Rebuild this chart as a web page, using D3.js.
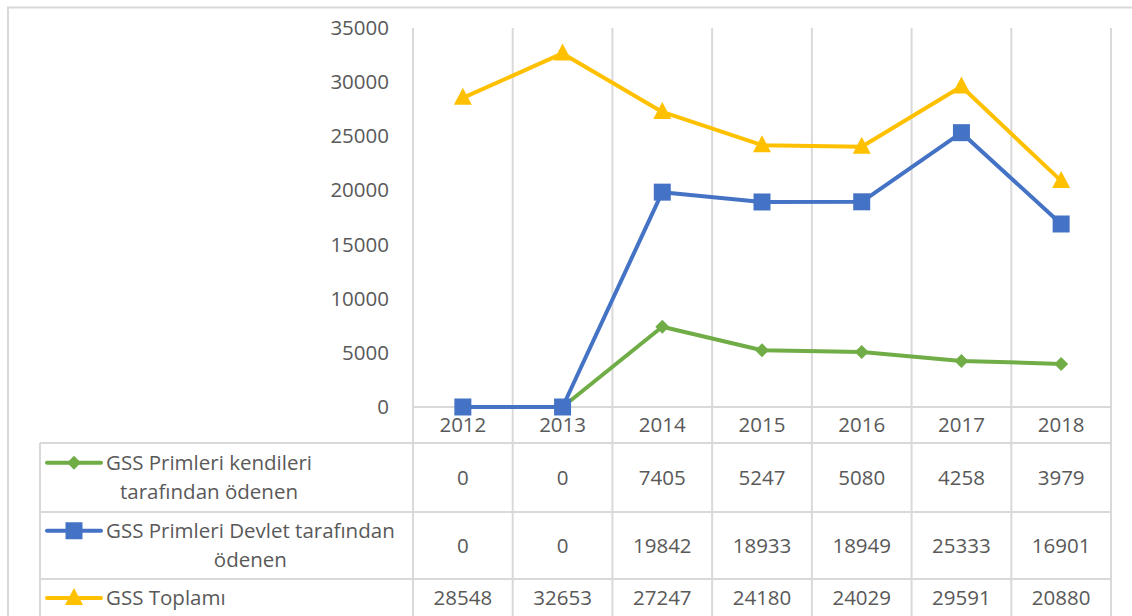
<!DOCTYPE html>
<html>
<head>
<meta charset="utf-8">
<script src="https://cdn.jsdelivr.net/npm/d3@7"></script>
<style>
  body { margin: 0; background: #fff; }
  text { font-family: "Open Sans", sans-serif; fill: #595959; }
</style>
</head>
<body>
<svg></svg>
<script>
const years = ["2012", "2013", "2014", "2015", "2016", "2017", "2018"];
const kendileri = [0, 0, 7405, 5247, 5080, 4258, 3979];
const devlet = [0, 0, 19842, 18933, 18949, 25333, 16901];
const toplam = [28548, 32653, 27247, 24180, 24029, 29591, 20880];
const yTicks = [0, 5000, 10000, 15000, 20000, 25000, 30000, 35000];

const series = [
  { name: ["GSS Primleri kendileri", "tarafından ödenen"], values: kendileri, color: "#70AD47", marker: "diamond" },
  { name: ["GSS Primleri Devlet tarafından", "ödenen"], values: devlet, color: "#4472C4", marker: "square" },
  { name: ["GSS Toplamı"], values: toplam, color: "#FFC000", marker: "triangle" },
];

let width = 1132,
  height = 616;

let svg = d3.select("svg").attr("width", width).attr("height", height);

const grid = "#D9D9D9";
const fs = 20.5;

let x = d3.scaleBand().domain(years).range([413, 1111]);
let y = d3.scaleLinear().domain([0, 35000]).range([407, 28]);

// table row edges (last one is below the picture)
const rowTops = [407, 443, 512, 579, 617];

// outer border
svg.append("path")
  .attr("d", `M8,${height} V7.5 H${width}`)
  .attr("fill", "none")
  .attr("stroke", grid)
  .attr("stroke-width", 2);

// vertical gridlines on category edges
let edges = years.map((d) => x(d)).concat([x.range()[1]]);
svg.append("g")
  .selectAll("line")
  .data(edges)
  .enter()
  .append("line")
  .attr("x1", (d) => d)
  .attr("x2", (d) => d)
  .attr("y1", y(35000))
  .attr("y2", height)
  .attr("stroke", grid)
  .attr("stroke-width", 2);

// table horizontal lines
svg.append("line")
  .attr("x1", 413).attr("x2", 1111)
  .attr("y1", rowTops[0]).attr("y2", rowTops[0])
  .attr("stroke", grid).attr("stroke-width", 2);
svg.append("g")
  .selectAll("line")
  .data(rowTops.slice(1, 4))
  .enter()
  .append("line")
  .attr("x1", 40).attr("x2", 1111)
  .attr("y1", (d) => d).attr("y2", (d) => d)
  .attr("stroke", grid).attr("stroke-width", 2);
svg.append("line")
  .attr("x1", 40).attr("x2", 40)
  .attr("y1", rowTops[1]).attr("y2", height)
  .attr("stroke", grid).attr("stroke-width", 2);

// y axis labels
let yAxis = svg.append("g")
  .attr("transform", "translate(413,0)")
  .call(d3.axisLeft(y).tickValues(yTicks).tickSize(0).tickPadding(24).tickFormat(d3.format("d")));
yAxis.select(".domain").remove();
yAxis.selectAll("text").style("font-size", fs + "px").style("font-family", "Open Sans").attr("fill", "#595959");

// year labels
svg.append("g")
  .selectAll("text")
  .data(years)
  .enter()
  .append("text")
  .attr("x", (d) => x(d) + x.bandwidth() / 2)
  .attr("y", (rowTops[0] + rowTops[1]) / 2)
  .attr("dy", "0.35em")
  .attr("text-anchor", "middle")
  .style("font-size", fs + "px")
  .text((d) => d);

function markerPath(type) {
  if (type == "diamond") return "M0,-7L7,0L0,7L-7,0Z";
  if (type == "square") return "M-8.5,-8.5H8.5V8.5H-8.5Z";
  return "M0,-10L9,7H-9Z";
}

// lines + markers
let line = d3.line()
  .x((d, i) => x(years[i]) + x.bandwidth() / 2)
  .y((d) => y(d));

series.forEach((s) => {
  let g = svg.append("g");
  g.append("path")
    .datum(s.values)
    .attr("d", line)
    .attr("fill", "none")
    .attr("stroke", s.color)
    .attr("stroke-width", 4)
    .attr("stroke-linejoin", "round");
  g.selectAll("path.m")
    .data(s.values)
    .enter()
    .append("path")
    .attr("class", "m")
    .attr("d", markerPath(s.marker))
    .attr("transform", (d, i) => `translate(${x(years[i]) + x.bandwidth() / 2},${y(d)})`)
    .attr("fill", s.color);
});

// table rows: legend + values
series.forEach((s, r) => {
  let top = rowTops[r + 1],
    bot = rowTops[r + 2];
  let mid = (top + bot) / 2;
  let lh = 29.5;
  let firstY = mid - ((s.name.length - 1) * lh) / 2;

  // legend symbol
  svg.append("line")
    .attr("x1", 47).attr("x2", 101)
    .attr("y1", firstY).attr("y2", firstY)
    .attr("stroke", s.color).attr("stroke-width", 4)
    .attr("stroke-linecap", "round");
  svg.append("path")
    .attr("d", markerPath(s.marker))
    .attr("transform", `translate(74,${firstY})`)
    .attr("fill", s.color);

  // legend text, lines centred on each other
  let texts = svg.append("g")
    .selectAll("text")
    .data(s.name)
    .enter()
    .append("text")
    .attr("y", (d, i) => firstY + i * lh)
    .attr("dy", "0.35em")
    .attr("text-anchor", "middle")
    .style("font-size", fs + "px")
    .text((d) => d);
  let maxW = d3.max(texts.nodes(), (n) => n.getComputedTextLength());
  texts.attr("x", 106 + maxW / 2);

  // values
  svg.append("g")
    .selectAll("text")
    .data(s.values)
    .enter()
    .append("text")
    .attr("x", (d, i) => x(years[i]) + x.bandwidth() / 2)
    .attr("y", mid)
    .attr("dy", "0.35em")
    .attr("text-anchor", "middle")
    .style("font-size", fs + "px")
    .text((d) => d);
});
</script>
</body>
</html>
